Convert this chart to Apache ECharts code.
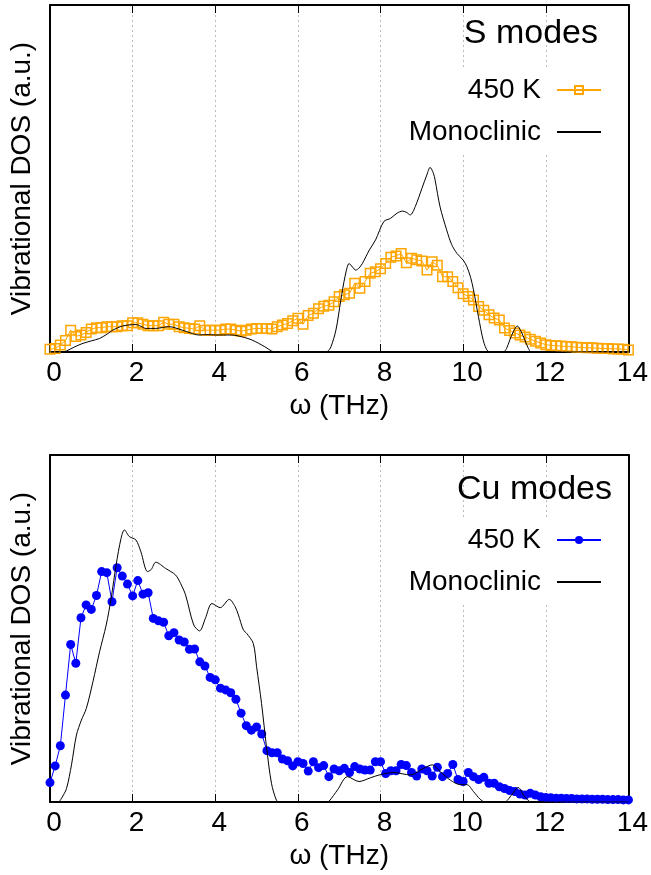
<!DOCTYPE html>
<html><head><meta charset="utf-8">
<script src="https://cdn.jsdelivr.net/npm/echarts@6/dist/echarts.min.js"></script>
<style>html,body{margin:0;padding:0;background:#fff}#c{width:651px;height:875px}</style>
</head><body><div id="c"></div>
<script>
// Frequency grid of the 450 K simulation points (THz)
const freq = [0,0.125,0.25,0.375,0.5,0.625,0.75,0.875,1,1.125,1.25,1.375,1.5,1.625,1.75,1.875,2,2.125,2.25,2.375,2.5,2.625,2.75,2.875,3,3.125,3.25,3.375,3.5,3.625,3.75,3.875,4,4.125,4.25,4.375,4.5,4.625,4.75,4.875,5,5.125,5.25,5.375,5.5,5.625,5.75,5.875,6,6.125,6.25,6.375,6.5,6.625,6.75,6.875,7,7.125,7.25,7.375,7.5,7.625,7.75,7.875,8,8.125,8.25,8.375,8.5,8.625,8.75,8.875,9,9.125,9.25,9.375,9.5,9.625,9.75,9.875,10,10.125,10.25,10.375,10.5,10.625,10.75,10.875,11,11.125,11.25,11.375,11.5,11.625,11.75,11.875,12,12.125,12.25,12.375,12.5,12.625,12.75,12.875,13,13.125,13.25,13.375,13.5,13.625,13.75,13.875,14];

// S modes, 450 K
const s450 = [0.8,1.0,2.0,3.3,6.3,4.5,4.9,5.6,6.6,7.0,
  7.0,7.3,7.3,7.3,7.6,7.6,8.4,8.4,8.0,7.6,
  7.6,7.6,8.6,8.0,8.0,7.3,7.0,6.8,6.6,7.6,
  6.3,6.3,6.3,6.3,6.6,6.6,6.3,6.0,6.3,6.6,
  6.8,6.8,6.8,6.6,7.3,7.8,8.2,9.0,9.7,8.0,
  10.5,11.2,12.5,13.2,13.5,14.5,16.0,16.5,16.9,19.8,
  18.4,20.3,22.7,23.1,24.0,25.5,27.3,27.7,28.4,25.7,
  27.0,26.6,26.2,23.6,26.0,25.0,21.7,21.7,20.3,18.5,
  16.8,16.0,15.0,13.1,12.0,10.7,9.8,9.2,6.9,6.2,
  5.5,4.9,4.3,3.7,3.1,2.6,2.1,1.9,1.8,1.7,
  1.6,1.5,1.4,1.3,1.2,1.2,1.1,1.0,1.0,0.9,
  0.9,0.8,0.6];

// Cu modes, 450 K
const cu450 = [5.6,10.4,16.2,30.8,45.4,40.0,53.1,56.8,55.5,59.5,
  66.4,66.1,57.7,67.5,65.1,62.8,59.4,63.8,59.9,60.3,
  52.9,52.2,51.8,47.9,48.8,46.7,46.1,44.0,44.1,40.4,
  39.2,35.9,35.2,32.8,32.3,31.5,29.6,25.6,22.0,20.7,
  21.6,19.6,14.8,14.2,14.2,12.4,11.9,10.4,11.6,11.1,
  8.9,11.6,9.9,10.5,7.3,9.5,9.0,9.7,8.5,10.2,
  9.5,9.2,9.2,11.6,11.6,8.2,9.0,9.0,10.8,10.5,
  8.5,7.5,9.5,9.0,7.5,10.0,7.3,8.2,10.8,6.5,
  5.9,8.5,7.3,6.5,7.1,5.4,5.4,4.4,3.9,3.3,
  3.0,2.3,2.0,2.5,2.0,1.5,1.3,1.2,1.1,1.1,
  1.0,1.0,0.9,0.9,0.9,0.8,0.8,0.8,0.7,0.7,
  0.7,0.6,0.6];

// Monoclinic reference, S modes
const sMonoFreq = [0,0.3,0.4,0.6,0.8,1.0,1.2,1.4,1.52,1.76,2.08,2.2,2.32,2.56,2.88,3.2,3.4,3.6,3.8,4.0,4.4,4.7,4.88,5.05,5.2,5.36,5.45,6.6,6.72,6.8,6.92,7.04,7.14,7.24,7.32,7.4,7.48,7.56,7.73,7.88,8.08,8.24,8.4,8.53,8.62,8.72,8.84,9.0,9.12,9.2,9.28,9.32,9.44,9.6,9.72,9.85,10.0,10.09,10.18,10.25,10.37,10.49,10.6,10.7,10.97,11.05,11.13,11.22,11.31,11.4,11.49,11.58,11.65,14];
const sMonoVal  = [0,0,0.3,1.5,2.5,3.2,3.9,5.3,6.3,7.5,7.9,7.4,6.8,6.8,7.3,6.3,5.5,4.9,5.0,4.9,4.9,4.2,3.5,2.5,1.5,0.3,0,0,0.2,1.5,6.3,15,21.7,25.5,24.5,23.6,24.2,25.5,29.4,32.3,37.6,38.5,40,40.6,40.3,39.5,41.9,47.1,51,53.2,51.5,49.6,41.9,35.2,31,28.4,26.5,24.6,21.5,17.9,10.2,3.2,0.2,0,0,1,3.5,6,7.5,6,3.5,1,0,0];

// Monoclinic reference, Cu modes
const cuMonoFreq = [0,0.2,0.28,0.4,0.52,0.64,0.76,0.88,1.04,1.2,1.36,1.48,1.6,1.72,1.8,1.92,2.08,2.2,2.36,2.45,2.56,2.8,3.04,3.16,3.28,3.48,3.62,3.76,3.92,4.12,4.34,4.48,4.56,4.68,4.76,4.92,5.0,5.12,5.24,5.36,5.48,5.55,6.7,6.76,6.96,7.2,7.48,7.76,8.0,8.32,8.72,9.04,9.25,9.45,9.69,9.93,10.09,10.25,10.41,10.53,11.0,11.17,11.33,11.49,11.65,14];
const cuMonoVal  = [0,0,1.1,3.9,10.7,19.3,23.6,27,34.7,43.3,51,58.7,68.3,76,78.4,76.5,75.5,72.1,66.4,67,69.1,67.3,65.4,63,59.7,51,49.3,52.9,57.2,56,58.4,56.3,53.9,49.6,48.6,45.7,39,28.4,15.9,5.4,0.5,0,0,0.3,3.5,7.3,5.9,7,7.9,8.5,7.8,9.7,10.7,8.7,6.3,5,5,3,0.8,0,0,2,4.2,1.5,0,0];

const xTicks = [0,2,4,6,8,10,12,14];
const panelTitles = ['S modes','Cu modes'];

const FONT = 'Liberation Sans, Arial, Helvetica, sans-serif';
const pair = (xs, ys) => xs.map((x, i) => [x, ys[i]]);
const BORDER = {show:true, onZero:false, lineStyle:{color:'#000', width:2}};

const chart = echarts.init(document.getElementById('c'), null, {renderer:'canvas'});

function xAxes(g) {
  return [
    {gridIndex:g, type:'value', min:xTicks[0], max:xTicks[xTicks.length-1], interval:2, position:'bottom',
     axisLine:BORDER, axisTick:{inside:true, length:8, lineStyle:{color:'#000', width:1}},
     axisLabel:{fontSize:28, color:'#000', margin:7, fontFamily:FONT, padding:[0,0,0,8]},
     splitLine:{show:true, lineStyle:{color:'#bbb', type:[2,3], width:1}},
     name:'ω (THz)', nameLocation:'middle', nameGap:40,
     nameTextStyle:{fontSize:28, color:'#000', fontFamily:FONT}},
    {gridIndex:g, type:'value', min:xTicks[0], max:xTicks[xTicks.length-1], interval:2, position:'top',
     axisLine:BORDER, axisTick:{inside:true, length:8, lineStyle:{color:'#000', width:1}},
     axisLabel:{show:false}, splitLine:{show:false}}
  ];
}
function yAxes(g) {
  return [
    {gridIndex:g, type:'value', min:0, max:100, position:'left',
     axisLine:BORDER, axisTick:{show:false}, axisLabel:{show:false}, splitLine:{show:false},
     name:'Vibrational DOS (a.u.)', nameLocation:'middle', nameRotate:90, nameGap:14,
     nameTextStyle:{fontSize:28, color:'#000', fontFamily:FONT}},
    {gridIndex:g, type:'value', min:0, max:100, position:'right',
     axisLine:BORDER, axisTick:{show:false}, axisLabel:{show:false}, splitLine:{show:false}}
  ];
}
function legend(prefix, top) {
  return {data:[prefix+' 450 K', prefix+' Monoclinic'], orient:'vertical', align:'right',
    right:26, top:top, itemWidth:44, itemHeight:10, itemGap:14, padding:[6,23,7,20],
    backgroundColor:'#fff', selectedMode:false,
    formatter:n => n.slice(prefix.length+1),
    textStyle:{fontSize:28, color:'#000', fontFamily:FONT, padding:[0,11,0,0]}};
}

const option = {
  animation:false,
  backgroundColor:'#fff',
  textStyle:{fontFamily:FONT},
  title:[
    {text:panelTitles[0], right:53, top:17, padding:0, textStyle:{fontSize:34, fontWeight:'normal', color:'#000', fontFamily:FONT}},
    {text:panelTitles[1], right:39, top:473, padding:0, textStyle:{fontSize:34, fontWeight:'normal', color:'#000', fontFamily:FONT}}
  ],
  grid:[
    {left:50, right:18, top:5, height:347},
    {left:50, right:18, top:455, height:347}
  ],
  xAxis:[...xAxes(0), ...xAxes(1)],
  yAxis:[...yAxes(0), ...yAxes(1)],
  legend:[legend('S', 70), legend('Cu', 520)],
  series:[
    {name:'S 450 K', type:'line', xAxisIndex:0, yAxisIndex:0, data:pair(freq, s450),
     symbol:'rect', symbolSize:9.5, showAllSymbol:true, z:2,
     itemStyle:{color:'rgba(255,255,255,0)', borderColor:'#FFA500', borderWidth:1.5},
     lineStyle:{color:'#FFA500', width:1}},
    {name:'S Monoclinic', type:'line', xAxisIndex:0, yAxisIndex:0, data:pair(sMonoFreq, sMonoVal),
     symbol:'none', smooth:0.3, z:3, itemStyle:{color:'rgba(0,0,0,0)'},
     lineStyle:{color:'#000', width:1}},
    {name:'Cu 450 K', type:'line', xAxisIndex:2, yAxisIndex:2, data:pair(freq, cu450),
     symbol:'circle', symbolSize:9, showAllSymbol:true, z:2,
     itemStyle:{color:'#0000FF'}, lineStyle:{color:'#0000FF', width:1}},
    {name:'Cu Monoclinic', type:'line', xAxisIndex:2, yAxisIndex:2, data:pair(cuMonoFreq, cuMonoVal),
     symbol:'none', smooth:0.3, z:3, itemStyle:{color:'rgba(0,0,0,0)'},
     lineStyle:{color:'#000', width:1}}
  ]
};
chart.setOption(option);
</script></body></html>
